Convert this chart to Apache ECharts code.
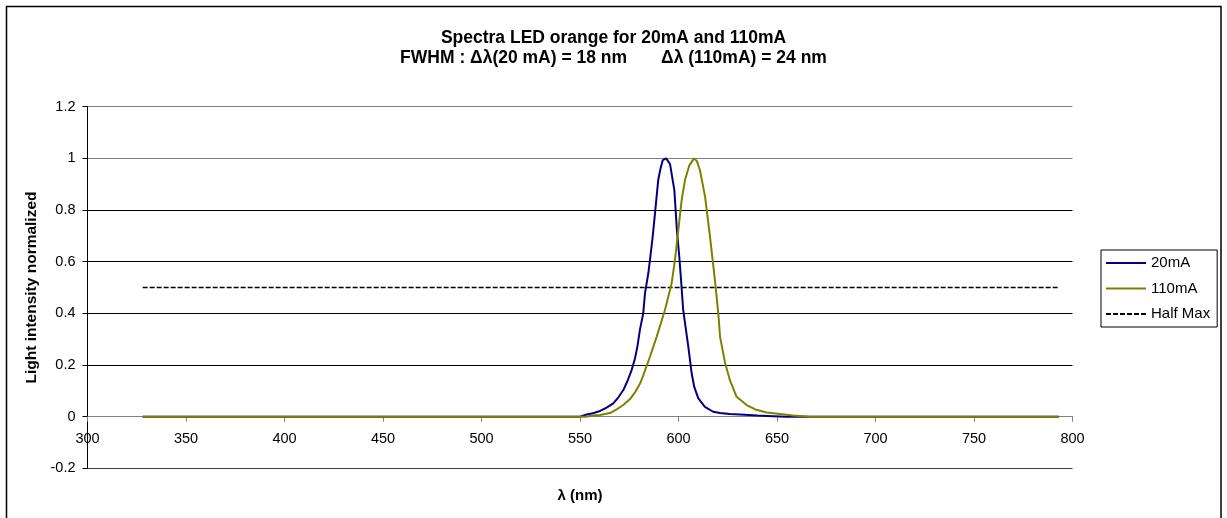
<!DOCTYPE html>
<html>
<head>
<meta charset="utf-8">
<script src="https://cdn.jsdelivr.net/npm/echarts@6/dist/echarts.min.js"></script>
<style>
html,body{margin:0;padding:0;background:#fff;}
#chart{width:1227px;height:518px;}
</style>
</head>
<body>
<div id="chart"></div>
<script>
// ---- data ----
const titleLines = ['Spectra LED orange for 20mA and 110mA', 'FWHM : \u0394\u03bb(20 mA) = 18 nm       \u0394\u03bb (110mA) = 24 nm'];
const xName = '\u03bb (nm)';
const yName = 'Light intensity normalized';
const seriesNames = ['20mA', '110mA', 'Half Max'];

const wl20 = [328, 550, 553.4, 556.5, 560.2, 563.5, 566.9, 569.5, 572, 574.2, 576.2, 577.9, 579.1, 580.5, 582.1, 583, 584.7, 585.5, 586.8, 588.1, 589.7, 591, 592, 593.7, 595.7, 597.9, 599.2, 600.4, 601.3, 602.4, 603.8, 605, 606.7, 608, 610, 613.4, 617.6, 621.1, 626, 631.2, 640, 648, 655, 793];
const val20 = [0, 0, 0.008, 0.013, 0.022, 0.035, 0.051, 0.075, 0.103, 0.14, 0.18, 0.225, 0.27, 0.34, 0.40, 0.478, 0.556, 0.606, 0.69, 0.79, 0.916, 0.965, 0.993, 1.0, 0.978, 0.877, 0.72, 0.619, 0.528, 0.412, 0.335, 0.27, 0.167, 0.115, 0.072, 0.038, 0.019, 0.014, 0.010, 0.008, 0.004, 0.002, 0, 0];

const wl110 = [328, 553, 556.8, 560.2, 565.2, 568.6, 572, 575.4, 578, 580.5, 582.1, 585.5, 588.9, 593.1, 596.5, 598.2, 599.9, 601.6, 603.3, 605.5, 607.9, 609.3, 610.9, 613.5, 616, 618.5, 620.2, 621.1, 623.6, 626.1, 629.5, 634.6, 639, 644.8, 651.5, 658.1, 666.7, 793];
const val110 = [0, 0, 0.004, 0.006, 0.014, 0.028, 0.045, 0.068, 0.095, 0.128, 0.16, 0.232, 0.309, 0.412, 0.516, 0.606, 0.722, 0.838, 0.916, 0.973, 1.0, 0.99, 0.954, 0.851, 0.696, 0.528, 0.40, 0.309, 0.21, 0.141, 0.077, 0.045, 0.028, 0.016, 0.010, 0.004, 0, 0];

const wlHalf = [328, 793];
const valHalf = [0.5, 0.5];

const xTicks = {min: 300, max: 800, step: 50};
const yTicks = {min: -0.2, max: 1.2, step: 0.2};

function pairs(xs, ys) { return xs.map((x, i) => [x, ys[i]]); }

const FONT = 'Arial, "Liberation Sans", sans-serif';
const chart = echarts.init(document.getElementById('chart'), null, {renderer: 'canvas'});
chart.setOption({
  animation: false,
  backgroundColor: '#fff',
  title: {
    text: titleLines.join('\n'),
    left: 'center',
    top: 23,
    textStyle: {fontFamily: FONT, fontSize: 17.5, fontWeight: 'bold', color: '#000', lineHeight: 20}
  },
  graphic: [{
    type: 'rect', silent: true, z: -1,
    shape: {x: 6.5, y: 6.5, width: 1214.5, height: 540},
    style: {fill: 'none', stroke: '#000', lineWidth: 1.5}
  }],
  legend: {
    orient: 'vertical',
    left: 1101, top: 250,
    padding: [5, 7, 5, 4],
    itemWidth: 40, itemHeight: 16, itemGap: 9.5,
    borderColor: '#000', borderWidth: 1, borderRadius: 0,
    itemStyle: {opacity: 0},
    textStyle: {fontFamily: FONT, fontSize: 15, color: '#000', lineHeight: 16},
    data: seriesNames
  },
  grid: {left: 87.5, right: 154.5, top: 106.7, bottom: 49.7, containLabel: false, outerBoundsMode: 'none'},
  xAxis: {
    type: 'value', min: xTicks.min, max: xTicks.max, interval: xTicks.step,
    name: xName, nameLocation: 'middle', nameGap: 20,
    nameTextStyle: {fontFamily: FONT, fontSize: 15, fontWeight: 'bold', color: '#000'},
    axisLine: {show: true, onZero: true, lineStyle: {color: '#808080', width: 1}},
    axisTick: {show: true, length: 5, lineStyle: {color: '#808080'}},
    axisLabel: {fontFamily: FONT, fontSize: 14.5, color: '#000', margin: -37},
    splitLine: {show: false}
  },
  yAxis: {
    type: 'value', min: yTicks.min, max: yTicks.max, interval: yTicks.step,
    name: yName, nameLocation: 'middle', nameGap: 41, nameRotate: 90,
    nameTextStyle: {fontFamily: FONT, fontSize: 15.5, fontWeight: 'bold', color: '#000'},
    axisLine: {show: true, onZero: false, lineStyle: {color: '#000', width: 1}},
    axisTick: {show: true, length: 5, lineStyle: {color: '#000'}},
    axisLabel: {fontFamily: FONT, fontSize: 14.5, color: '#000', margin: 12},
    splitLine: {show: true, lineStyle: {color: ['#404040', '#808080', '#000', '#000', '#000', '#000', '#808080', '#808080'], width: 1}}
  },
  series: [
    {
      name: seriesNames[2], type: 'line', symbol: 'none', z: 2,
      lineStyle: {color: '#000', width: 1.5, type: [5, 2]},
      itemStyle: {color: '#000'},
      data: pairs(wlHalf, valHalf)
    },
    {
      name: seriesNames[0], type: 'line', symbol: 'none', z: 3,
      lineStyle: {color: '#000080', width: 2},
      itemStyle: {color: '#000080'},
      data: pairs(wl20, val20)
    },
    {
      name: seriesNames[1], type: 'line', symbol: 'none', z: 4,
      lineStyle: {color: '#808000', width: 2},
      itemStyle: {color: '#808000'},
      data: pairs(wl110, val110)
    }
  ]
});
</script>
</body>
</html>
